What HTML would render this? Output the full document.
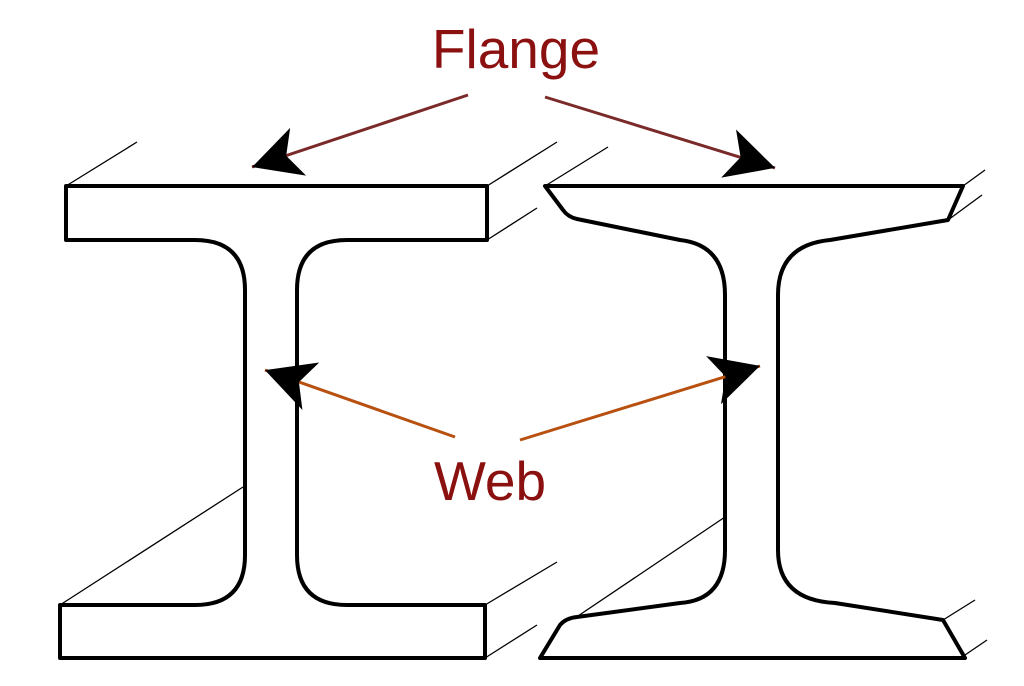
<!DOCTYPE html>
<html><head><style>html,body{margin:0;padding:0;background:#fff}svg{display:block}</style></head>
<body>
<svg width="1024" height="686" viewBox="0 0 1024 686" xmlns="http://www.w3.org/2000/svg">
<defs>
<marker id="ah" viewBox="0 0 20 20" refX="18" refY="10" markerWidth="20" markerHeight="20" markerUnits="userSpaceOnUse" orient="auto" overflow="visible">
<path d="M-36,-18 L18,10 L-36,38 L-22,10 Z" fill="#000" transform="scale(0.9) translate(2,1)"/>
</marker>
</defs>
<g fill="none" stroke="#000" stroke-width="1.3">
<line x1="66" y1="186" x2="137" y2="142"/>
<line x1="487" y1="186" x2="557" y2="142"/>
<line x1="487" y1="240" x2="537" y2="208"/>
<line x1="60" y1="605" x2="243" y2="487"/>
<line x1="485" y1="605" x2="557" y2="562"/>
<line x1="485" y1="658" x2="537" y2="625"/>
<line x1="545" y1="186" x2="608" y2="147"/>
<line x1="963" y1="186" x2="985" y2="170"/>
<line x1="948" y1="220" x2="982" y2="195"/>
<line x1="575" y1="618" x2="725" y2="517"/>
<line x1="943" y1="620" x2="975" y2="600"/>
<line x1="965" y1="655" x2="987" y2="640"/>
</g>
<g fill="#fff" stroke="#000" stroke-width="4" stroke-linejoin="round">
<path d="M66,186 H487 V240 H347 Q297,240 297,290 V555 Q297,605 347,605 H485 V658 H60 V605 H195 Q245,605 245,555 V290 Q245,240 195,240 H66 Z"/>
<path d="M545,186 H963 L948,220 L830,240 Q778,245 778,295 V550 Q778,600 835,603 L943,620 L965,658 H540 L560,625 Q566,618 577,617 L680,603 Q725,600 725,550 V295 Q725,245 680,240 L577,219 Q568,217 563,210 Z"/>
</g>
<g stroke-width="3" fill="none">
<line x1="468" y1="95" x2="252" y2="167" stroke="#7b2a2a" marker-end="url(#ah)"/>
<line x1="545" y1="97" x2="775" y2="168" stroke="#7b2a2a" marker-end="url(#ah)"/>
<line x1="455" y1="437" x2="265" y2="370" stroke="#b85010" marker-end="url(#ah)"/>
<line x1="520" y1="440" x2="760" y2="366" stroke="#b85010" marker-end="url(#ah)"/>
</g>
<g font-family="Liberation Sans, sans-serif" font-size="55" fill="#8b1010" text-anchor="middle">
<text x="516" y="68">Flange</text>
<text x="490" y="500">Web</text>
</g>
</svg>
</body></html>
